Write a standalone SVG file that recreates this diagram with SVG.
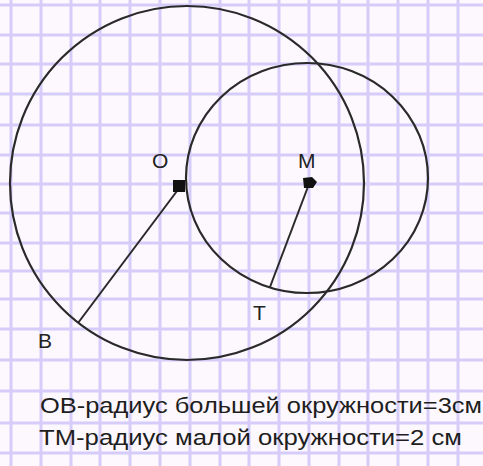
<svg xmlns="http://www.w3.org/2000/svg" width="483" height="466" viewBox="0 0 483 466">
<style>
.grid line{stroke:#d6ccfa;stroke-width:3}
.c{fill:none;stroke:#2a2a2a;stroke-width:2.2}
.seg{stroke:#2a2a2a;stroke-width:2}
.lbl{font-family:"Liberation Sans",Arial,sans-serif;font-size:21px;fill:#222}
.txt{font-family:"Liberation Sans",Arial,sans-serif;font-size:22px;fill:#1e1e1e}
</style>
<rect width="483" height="466" fill="#fdf8fd"/>
<g class="grid">
<line x1="11" y1="0" x2="11" y2="466"/><line x1="41" y1="0" x2="41" y2="466"/><line x1="71" y1="0" x2="71" y2="466"/><line x1="100" y1="0" x2="100" y2="466"/><line x1="130" y1="0" x2="130" y2="466"/><line x1="160" y1="0" x2="160" y2="466"/><line x1="190" y1="0" x2="190" y2="466"/><line x1="220" y1="0" x2="220" y2="466"/><line x1="249" y1="0" x2="249" y2="466"/><line x1="279" y1="0" x2="279" y2="466"/><line x1="309" y1="0" x2="309" y2="466"/><line x1="339" y1="0" x2="339" y2="466"/><line x1="368" y1="0" x2="368" y2="466"/><line x1="398" y1="0" x2="398" y2="466"/><line x1="428" y1="0" x2="428" y2="466"/><line x1="458" y1="0" x2="458" y2="466"/>
<line x1="0" y1="5" x2="483" y2="5"/><line x1="0" y1="35" x2="483" y2="35"/><line x1="0" y1="64" x2="483" y2="64"/><line x1="0" y1="94" x2="483" y2="94"/><line x1="0" y1="125" x2="483" y2="125"/><line x1="0" y1="155" x2="483" y2="155"/><line x1="0" y1="184" x2="483" y2="184"/><line x1="0" y1="213" x2="483" y2="213"/><line x1="0" y1="243" x2="483" y2="243"/><line x1="0" y1="271" x2="483" y2="271"/><line x1="0" y1="299" x2="483" y2="299"/><line x1="0" y1="329" x2="483" y2="329"/><line x1="0" y1="360" x2="483" y2="360"/><line x1="0" y1="391" x2="483" y2="391"/><line x1="0" y1="423" x2="483" y2="423"/><line x1="0" y1="453" x2="483" y2="453"/>
</g>
<g id="big-circle"><circle class="c" cx="187" cy="183" r="177"/></g>
<g id="small-circle"><ellipse class="c" cx="307" cy="178" rx="121" ry="115"/></g>
<g id="connectors">
<line class="seg" x1="180" y1="187" x2="78" y2="323"/>
<line class="seg" x1="309" y1="184" x2="270" y2="287"/>
</g>
<g id="O"><rect x="173" y="180" width="12" height="12" fill="#111"/><text class="lbl" x="152" y="168">O</text></g>
<g id="M"><path d="M303 178 L312 177 L317 182 L313 188 L304 188 Z" fill="#111"/><text class="lbl" x="298" y="168">M</text></g>
<g id="T"><text class="lbl" x="253" y="320">T</text></g>
<g id="B"><text class="lbl" x="38" y="348">B</text></g>
<g id="caption">
<text class="txt" x="40" y="413" textLength="442" lengthAdjust="spacingAndGlyphs">ОВ-радиус большей окружности=3см</text>
<text class="txt" x="39" y="445" textLength="423" lengthAdjust="spacingAndGlyphs">ТМ-радиус малой окружности=2 см</text>
</g>
</svg>
